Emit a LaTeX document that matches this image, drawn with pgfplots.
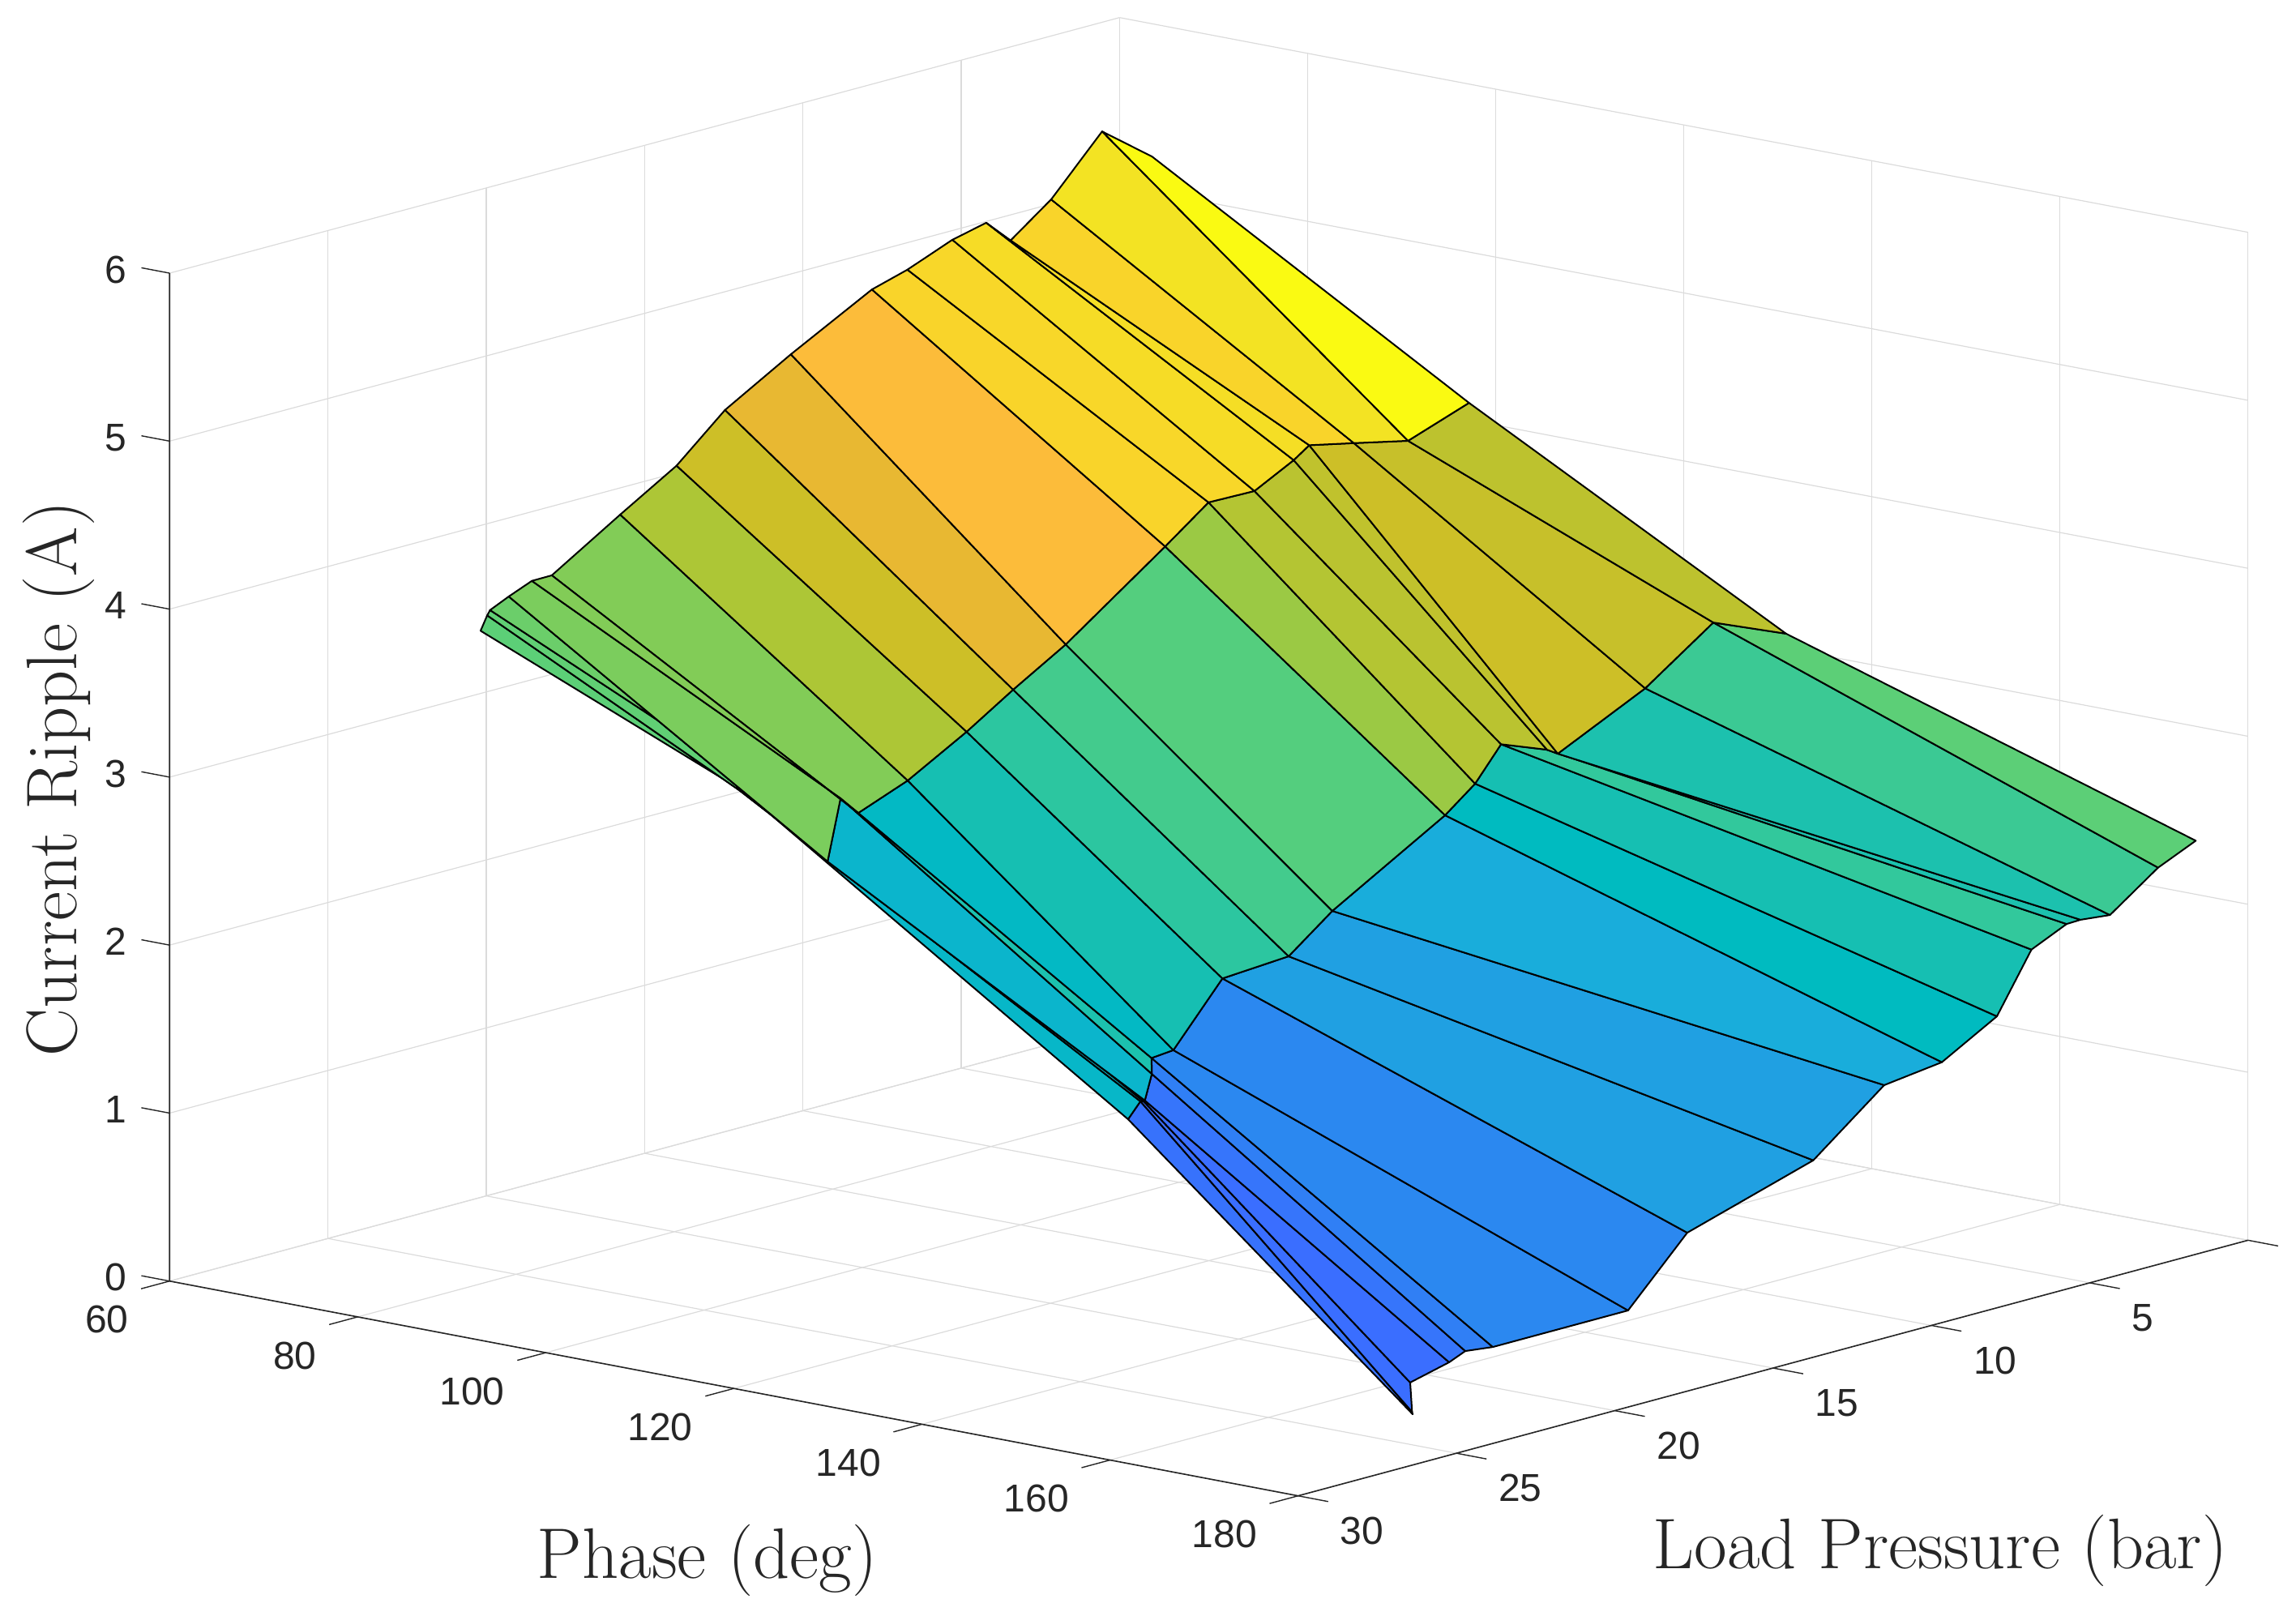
\documentclass[border=0pt]{standalone}
\usepackage{pgfplots}
\pgfplotsset{compat=1.18}
\usepackage{fontspec}
\newfontfamily\ticksans{Liberation Sans}
\definecolor{axdark}{gray}{0.15}
\definecolor{gridlight}{gray}{0.86}
\pgfplotsset{
  colormap={parulaish}{
    rgb255=(62,38,168) rgb255=(58,110,255) rgb255=(43,136,240)
    rgb255=(32,160,226) rgb255=(25,173,219) rgb255=(0,187,192)
    rgb255=(22,191,178) rgb255=(50,200,156) rgb255=(92,207,119)
    rgb255=(130,204,87) rgb255=(173,198,54) rgb255=(205,191,39)
    rgb255=(232,184,50) rgb255=(252,188,58) rgb255=(249,212,42)
    rgb255=(243,227,35) rgb255=(250,250,18)
  }
}
\begin{document}
\begin{tikzpicture}
\path[use as bounding box] (0,0) rectangle (708.25pt,498.25pt);
\begin{axis}[
  at={(52.325pt,36.825pt)}, anchor=south west,
  x={(2.9008pt,-0.552pt)},
  y={(9.7675pt,2.628pt)}, y dir=reverse,
  z={(0pt,51.82pt)},
  xmin=60, xmax=180, ymin=0, ymax=30, zmin=0, zmax=6,
  xtick={60,80,...,180},
  ytick={0,5,...,30},
  yticklabels={,5,10,15,20,25,30},
  ztick={0,1,...,6},
  grid=major,
  grid style={gridlight, line width=0.3pt},
  axis line style={draw=none},
  major tick length=0pt,
  tick style={draw=none},
  tick label style={font=\ticksans\fontsize{12}{14}\selectfont, text=axdark, inner sep=0pt},
  xticklabel style={anchor=east, xshift=-12.5pt, yshift=-11.9pt},
  yticklabel style={anchor=west, xshift=12.8pt, yshift=-10.8pt},
  zticklabel style={anchor=east, xshift=-13pt, yshift=1.1pt},
  /pgf/number format/assume math mode=true,
  colormap name=parulaish,
  point meta min=0, point meta max=16,
  clip=false,
]
% rows go 60, 90, 120, 180 deg, columns from high to low load
\addplot3[
  patch, patch type=rectangle, shader=faceted, faceted color=black,
  z buffer=none,
  line width=0.5pt, line join=round,
  table/row sep=\\,
  patch table with point meta={
    36 37 55 54 1.17\\ 37 38 56 55 1\\ 38 39 57 56 1\\ 39 40 58 57 1.25\\
    40 41 59 58 1.67\\ 41 42 60 59 2\\ 42 43 61 60 2\\ 43 44 62 61 3\\
    44 45 63 62 3\\ 45 46 64 63 4\\ 46 47 65 64 5\\ 47 48 66 65 6\\
    48 49 67 66 7\\ 49 50 68 67 6.2\\ 50 51 69 68 6.2\\ 51 52 70 69 7.2\\
    52 53 71 70 8\\
    18 19 37 36 4.7\\ 19 20 38 37 4.71\\ 20 21 39 38 4.57\\ 21 22 40 39 4.57\\
    22 23 41 40 6.2\\ 23 24 42 41 4.86\\ 24 25 43 42 6\\ 25 26 44 43 6.8\\
    26 27 45 44 7.4\\ 27 28 46 45 7.8\\ 28 29 47 46 9.57\\ 29 30 48 47 10.2\\
    30 31 49 48 10.4\\ 31 32 50 49 10.6\\ 32 33 51 50 11\\ 33 34 52 51 10.8\\
    34 35 53 52 10.5\\
    0 1 19 18 8\\ 1 2 20 19 8.1\\ 2 3 21 20 8.4\\ 3 4 22 21 8.8\\
    5 6 24 23 9\\ 4 5 23 22 9\\ 6 7 25 24 10\\ 7 8 26 25 11\\
    8 9 27 26 12\\ 9 10 28 27 13\\ 10 11 29 28 14\\ 11 12 30 29 14.17\\
    12 13 31 30 14.5\\ 13 14 32 31 14.67\\ 14 15 33 32 14\\ 15 16 34 33 15\\
    16 17 35 34 16\\
  },
] table[row sep=\\] {
  phase load ripple\\
  60 20.18 3.373\\ 60 19.97 3.454\\ 60 19.88 3.481\\ 60 19.29 3.532\\ 60 18.56 3.588\\ 60 17.93 3.589\\
  60 15.77 3.841\\ 60 13.99 4.042\\ 60 12.46 4.296\\ 60 10.38 4.522\\ 60 7.82 4.778\\ 60 6.70 4.839\\
  60 5.28 4.945\\ 60 4.21 4.992\\ 60 3.44 4.848\\ 60 2.16 5.027\\ 60 0.55 5.350\\ 64 0.16 5.223\\
  90 20.80 2.770\\ 90 20.92 2.781\\ 90 21.38 2.959\\ 90 18.13 2.215\\ 90 17.72 2.571\\ 90 17.16 2.455\\
  90 15.60 2.569\\ 90 13.74 2.765\\ 90 12.27 2.941\\ 90 10.61 3.126\\ 90 7.47 3.550\\ 90 6.10 3.743\\
  90 4.65 3.737\\ 90 3.41 3.858\\ 90 2.92 3.922\\ 90 1.51 3.863\\ 93 0.69 3.867\\ 101 1.14 4.201\\
  120 17.55 0.971\\ 120 17.16 1.058\\ 120 17.06 1.053\\ 120 17.02 1.056\\ 120 16.80 1.203\\ 120 16.81 1.298\\
  120 16.12 1.310\\ 120 14.57 1.658\\ 120 12.48 1.684\\ 120 11.10 1.884\\ 120 7.54 2.273\\ 120 6.59 2.413\\
  120 5.77 2.606\\ 120 4.32 2.500\\ 120 3.98 2.459\\ 120 1.22 2.708\\ 126 0.85 3.145\\ 136 1.52 3.219\\
  180 26.38 0.302\\ 180 26.40 0.317\\ 180 26.46 0.495\\ 180 25.23 0.553\\ 180 24.72 0.594\\ 180 23.85 0.574\\
  180 19.58 0.575\\ 180 17.71 0.943\\ 180 13.73 1.172\\ 180 11.49 1.506\\ 180 9.67 1.550\\ 180 7.93 1.735\\
  180 6.84 2.077\\ 180 5.73 2.173\\ 180 5.29 2.176\\ 180 4.36 2.157\\ 180 2.84 2.362\\ 180 1.65 2.462\\
};
% dark front edges of the box and their ticks, pgfplots would tick the back edges too
\draw[axdark, line width=0.4pt] (axis cs:60,30,6) -- (axis cs:60,30,0) -- (axis cs:180,30,0) -- (axis cs:180,0,0);
\pgfplotsinvokeforeach{60,80,100,120,140,160,180}{
  \draw[axdark, line width=0.35pt] (axis cs:#1,30,0) -- (axis cs:#1,30.9,0);
}
\pgfplotsinvokeforeach{0,5,10,15,20,25,30}{
  \draw[axdark, line width=0.35pt] (axis cs:180,#1,0) -- (axis cs:183.2,#1,0);
}
\pgfplotsinvokeforeach{0,1,2,3,4,5,6}{
  \draw[axdark, line width=0.35pt] (axis cs:60,30,#1) -- (axis cs:57,30,#1);
}
\end{axis}
\node[font=\fontsize{22.1}{26}\selectfont, text=axdark] at (218.2pt,16.8pt) {Phase (deg)};
\node[font=\fontsize{22.1}{26}\selectfont, text=axdark] at (598.5pt,20pt) {Load Pressure (bar)};
\node[font=\fontsize{22.1}{26}\selectfont, text=axdark, rotate=90] at (18pt,258pt) {Current Ripple (A)};
\end{tikzpicture}
\end{document}
